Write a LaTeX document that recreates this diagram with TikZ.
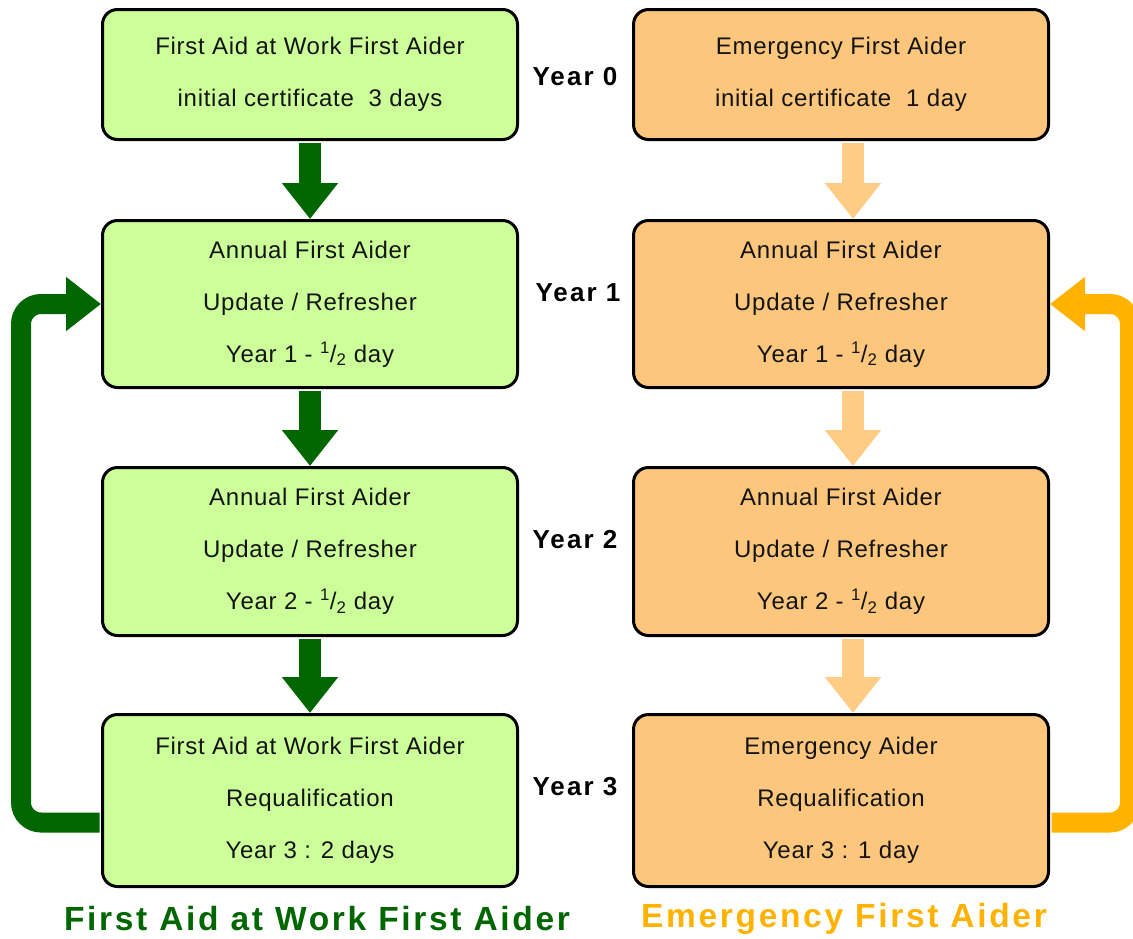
\documentclass[tikz,border=0pt]{standalone}
\usepackage{fontspec}
\setmainfont{Liberation Sans}
\newfontfamily\boxfont[LetterSpace=3]{Liberation Sans}
\newfontfamily\labfont[LetterSpace=8]{Liberation Sans}
\usetikzlibrary{arrows.meta}
\definecolor{aidgreen}{HTML}{CCFF99}
\definecolor{aidorange}{HTML}{FCC77C}
\definecolor{stepgreen}{HTML}{006600}
\definecolor{steporange}{HTML}{FFCC85}
\definecolor{loopgreen}{HTML}{006600}
\definecolor{looporange}{HTML}{FFB300}
\tikzset{
  course/.style={draw=black, line width=3pt, rounded corners=15pt,
    minimum width=415pt, align=center, text=black!92,
    font=\boxfont\fontsize{24}{52}\selectfont},
  faw/.style={course, fill=aidgreen},
  efa/.style={course, fill=aidorange},
  yearlab/.style={font=\labfont\bfseries\fontsize{26}{30}\selectfont},
  bigtitle/.style={font=\labfont\bfseries\fontsize{33.5}{38}\selectfont},
  gostep/.style={line width=22pt, shorten <=1.5pt, -{Triangle[width=54pt,length=36pt]}},
  goloop/.style={line width=20pt, rounded corners=20pt, shorten <=1.5pt, -{Triangle[width=52pt,length=35pt]}}
}
\newcommand{\half}{\textsuperscript{1}/\textsubscript{2}}
\begin{document}
\begin{tikzpicture}[x=1pt,y=-1pt]
    \useasboundingbox (0,0) rectangle (1133,938);
    
    % left column
    \node[faw, minimum height=130pt] (fa0) at (310,74.5) {First Aid at Work First Aider\\initial certificate\ \ 3 days};
    \node[faw, minimum height=167pt] (fa1) at (310,304) {Annual First Aider\\Update / Refresher\\Year 1 - \half\ day};
    \node[faw, minimum height=168pt] (fa2) at (310,551.5) {Annual First Aider\\Update / Refresher\\Year 2 - \half\ day};
    \node[faw, minimum height=172pt] (fa3) at (310,800.5) {First Aid at Work First Aider\\Requalification\\Year 3 : 2 days};
    
    % right column
    \node[efa, minimum height=130pt] (ef0) at (841,74.5) {Emergency First Aider\\initial certificate\ \ 1 day};
    \node[efa, minimum height=167pt] (ef1) at (841,304) {Annual First Aider\\Update / Refresher\\Year 1 - \half\ day};
    \node[efa, minimum height=168pt] (ef2) at (841,551.5) {Annual First Aider\\Update / Refresher\\Year 2 - \half\ day};
    \node[efa, minimum height=172pt] (ef3) at (841,800.5) {Emergency Aider\\Requalification\\Year 3 : 1 day};
    
    % years
    \node[yearlab] (y0) at (575,77) {Year 0};
    \node[yearlab] (y1) at (578,293) {Year 1};
    \node[yearlab] (y2) at (575,540) {Year 2};
    \node[yearlab] (y3) at (575,787) {Year 3};
    
    % steps down
    \draw[gostep, stepgreen] (fa0.south) -- (fa1.north);
    \draw[gostep, stepgreen] (fa1.south) -- (fa2.north);
    \draw[gostep, stepgreen] (fa2.south) -- (fa3.north);
    \draw[gostep, steporange] ([xshift=12pt]ef0.south) -- ([xshift=12pt]ef1.north);
    \draw[gostep, steporange] ([xshift=12pt]ef1.south) -- ([xshift=12pt]ef2.north);
    \draw[gostep, steporange] ([xshift=12pt]ef2.south) -- ([xshift=12pt]ef3.north);
    
    % loops back
    \coordinate (lpl) at (21,0);
    \coordinate (lpr) at (1130,0);
    \draw[goloop, loopgreen] ([yshift=-22pt]fa3.west) -- ([yshift=-22pt]fa3.west -| lpl) -- (fa1.west -| lpl) -- (fa1.west);
    \draw[goloop, looporange] ([yshift=-22pt]ef3.east) -- ([yshift=-22pt]ef3.east -| lpr) -- (ef1.east -| lpr) -- (ef1.east);
    
    % titles
    \node[bigtitle, text=loopgreen] (tfa) at (317,919) {First Aid at Work First Aider};
    \node[bigtitle, text=looporange] (tef) at (844,919) {Emergency First Aider};
\end{tikzpicture}
\end{document}
